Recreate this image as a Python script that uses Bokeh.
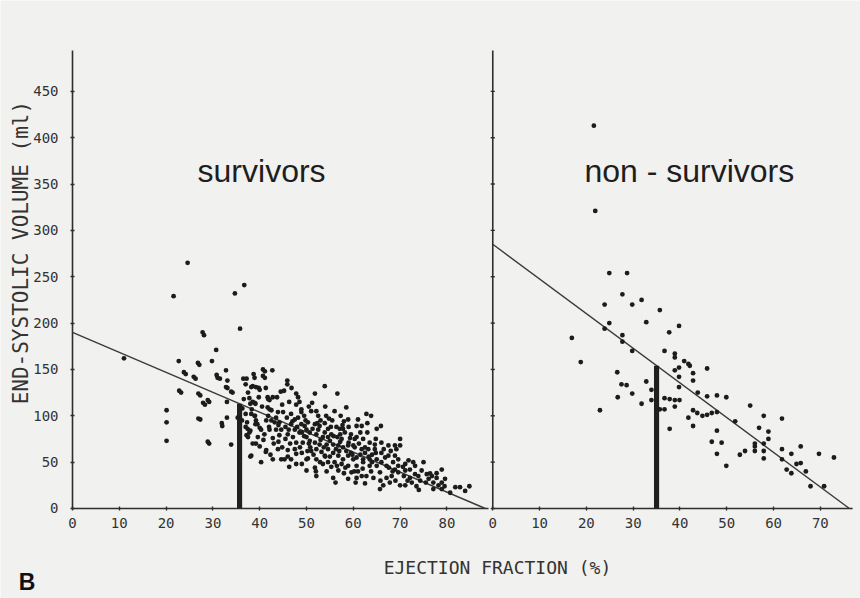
import numpy as np
from bokeh.plotting import figure
from bokeh.models import Range1d, FixedTicker, CustomJSTickFormatter, Label
from bokeh.embed import file_html
from bokeh.resources import INLINE

# ---------------- data ----------------
y_ticks = [0, 50, 100, 150, 200, 250, 300, 350, 400, 450]
surv_ticks = [0, 10, 20, 30, 40, 50, 60, 70, 80]
nonsurv_ticks = [0, 10, 20, 30, 40, 50, 60, 70]

surv_ef = [
    11.0, 20.1, 20.1, 20.1, 21.6, 22.7, 22.8, 23.2, 23.8, 24.2,
    24.6, 25.9, 26.3, 26.8, 26.9, 26.9, 27.1, 27.3, 27.3, 27.8,
    28.1, 27.9, 28.3, 28.9, 28.9, 29.2, 29.2, 29.8, 30.7, 30.8,
    31.0, 31.5, 31.9, 32.0, 32.8, 32.8, 33.0, 33.1, 33.1, 33.0,
    33.9, 33.9, 34.2, 34.7, 35.3, 35.8, 36.7,
    36.5, 37.2, 37.0, 38.9, 38.5, 38.7, 38.2, 39.2, 40.0, 37.5,
    38.5, 38.0, 37.8, 38.9, 39.1, 37.0, 38.3, 38.2, 38.9, 39.2,
    39.1, 37.3, 37.4, 37.8, 37.2, 37.0, 38.0, 40.0, 39.2, 38.5,
    39.6, 40.0, 38.2, 38.0, 39.5, 39.0, 36.2, 36.3, 39.8, 36.6,
    37.5,
    40.7, 40.7, 42.7, 41.1, 41.1, 41.3, 39.8, 41.7, 42.8, 43.7,
    44.5, 41.8, 42.1, 41.7, 42.5, 43.9, 41.4, 42.5, 43.2, 44.2,
    40.3, 42.1, 43.5, 44.6, 41.0, 42.8, 44.2, 41.4, 43.9, 42.8,
    44.6, 40.3, 45.3, 45.0, 45.2, 45.9, 45.9, 42.1, 41.3, 41.8,
    40.5, 43.0, 44.0, 40.8, 42.0, 43.5, 44.8, 42.3,
    47.8, 47.8, 48.9, 46.7, 47.5, 48.2, 46.7, 48.9, 49.6, 47.5,
    48.5, 47.1, 47.8, 49.2, 50.0, 47.5, 46.0, 47.8, 46.7, 50.0,
    47.8, 50.0, 50.0, 48.9, 46.3, 46.0, 49.0, 45.8, 46.5, 48.5,
    49.5, 45.5, 49.0, 46.3, 48.0, 49.8,
    51.8, 53.9, 51.0, 52.1, 52.5, 50.3, 51.8, 52.8, 53.9, 54.6,
    50.7, 52.1, 53.5, 54.6, 50.7, 51.8, 52.8, 54.3, 52.1, 53.2,
    54.6, 50.3, 52.1, 53.9, 51.8, 52.1, 54.6, 53.9, 55.0, 51.0,
    53.0, 50.5, 54.0, 52.5, 51.5, 53.5, 50.8, 54.8, 52.0, 54.3,
    56.6, 58.5, 58.0, 58.9, 56.4, 57.1, 58.2, 55.3, 56.6, 57.5,
    59.3, 55.7, 56.8, 57.8, 58.9, 60.0, 55.7, 56.8, 57.8, 58.9,
    60.0, 56.0, 57.5, 58.9, 55.7, 58.9, 56.8, 59.6, 60.7, 57.8,
    55.5, 59.0, 56.0, 57.0, 59.5, 55.3, 58.0, 59.5, 56.2, 57.3,
    60.7, 61.8, 62.8, 63.8, 65.0, 60.7, 62.1, 63.5, 64.6, 60.3,
    61.8, 63.2, 64.6, 60.7, 62.1, 63.5, 65.0, 60.7, 62.1, 63.5,
    65.0, 61.8, 62.8, 64.3, 62.5, 65.7, 65.9, 61.0, 61.5, 63.0,
    64.0, 62.5, 61.0, 63.8, 64.8, 60.5,
    66.0, 67.5, 68.9, 70.0, 70.0, 66.0, 67.5, 68.9, 69.6, 66.0,
    67.1, 68.5, 69.6, 65.7, 67.1, 68.2, 69.6, 66.4, 70.0, 68.9,
    66.5, 68.0, 69.0, 65.8, 67.8,
    71.1, 72.1, 73.2, 71.1, 73.9, 72.1, 74.3, 71.1, 75.0, 73.2,
    74.6, 70.8, 72.5, 73.5, 71.8, 74.0, 75.7, 76.8, 77.8, 78.9,
    76.1, 77.1, 78.2, 78.9, 77.1, 79.6, 78.9, 76.4, 77.8, 80.7,
    81.8, 82.8, 83.9, 84.8, 75.5, 79.5,
    44.0, 45.5, 46.2, 47.0, 48.6, 49.5, 50.5, 51.3, 52.3, 53.0,
    53.7, 54.0, 55.2, 55.8, 56.3, 57.2, 57.7, 58.5, 59.0, 59.8,
    60.3, 61.2, 61.5, 62.5, 63.3, 64.0, 63.0, 64.8, 66.8, 67.6,
    68.4, 69.2, 70.6, 71.6, 72.8, 44.8, 46.0, 49.0, 50.2, 52.9,
    55.0, 56.5, 58.3, 60.2, 62.0, 57.2, 54.2, 51.2, 48.2, 46.8,
]
surv_esv = [
    162, 106, 93, 73, 229, 159, 127, 125, 147, 145,
    265, 142, 140, 157, 124, 97, 155, 122, 96, 190,
    187, 114, 112, 117, 72, 115, 70, 159, 171, 144,
    141, 140, 92, 89, 149, 131, 115, 138, 130, 98,
    126, 69, 125, 232, 98, 194, 241,
    140, 140, 134, 141, 132, 145, 131, 131, 128, 125,
    115, 113, 119, 114, 113, 102, 107, 102, 100, 95,
    91, 93, 86, 82, 79, 88, 84, 87, 70, 70,
    77, 67, 57, 56, 91, 100, 95, 108, 120, 118,
    77,
    150, 143, 149, 148, 141, 130, 130, 120, 120, 120,
    126, 118, 117, 109, 106, 104, 95, 95, 93, 93,
    85, 85, 85, 85, 80, 76, 79, 63, 64, 53,
    53, 50, 53, 104, 127, 138, 134, 107, 61, 100,
    110, 70, 72, 74, 88, 98, 112, 58,
    124, 112, 107, 102, 96, 98, 91, 91, 89, 85,
    82, 77, 71, 71, 77, 64, 63, 59, 53, 53,
    48, 41, 85, 104, 115, 80, 60, 98, 70, 115,
    100, 88, 48, 45, 88, 95,
    124, 132, 105, 105, 100, 93, 91, 89, 92, 86,
    82, 80, 77, 77, 73, 71, 69, 69, 64, 61,
    64, 54, 53, 57, 44, 35, 50, 82, 73, 62,
    95, 110, 110, 85, 58, 48, 66, 97, 40, 40,
    124, 109, 94, 96, 88, 86, 82, 80, 77, 75,
    76, 69, 68, 66, 68, 68, 60, 57, 53, 57,
    53, 50, 48, 46, 33, 32, 41, 39, 33, 86,
    95, 88, 105, 62, 60, 45, 38, 80, 28, 100,
    89, 89, 102, 100, 86, 77, 75, 71, 69, 66,
    64, 64, 64, 55, 53, 53, 53, 46, 50, 46,
    46, 35, 35, 33, 27, 21, 89, 96, 82, 82,
    58, 60, 40, 40, 75, 28,
    71, 68, 68, 68, 75, 60, 57, 57, 53, 50,
    46, 50, 46, 39, 33, 35, 39, 25, 25, 42,
    64, 62, 30, 30, 28,
    48, 42, 37, 41, 35, 33, 30, 25, 50, 46,
    41, 35, 28, 24, 52, 20, 37, 35, 33, 42,
    32, 28, 25, 21, 21, 32, 28, 38, 38, 17,
    23, 23, 19, 24, 28, 24,
    90, 75, 85, 94, 66, 78, 70, 86, 92, 74,
    66, 56, 88, 78, 64, 72, 90, 62, 71, 58,
    75, 70, 58, 66, 56, 50, 92, 60, 55, 44,
    40, 64, 45, 30, 50, 66, 56, 82, 62, 50,
    56, 46, 44, 40, 43, 80, 100, 114, 120, 130,
]

nonsurv_ef = [
    16.9, 18.8, 22.9, 24.9, 28.7, 27.7, 23.9, 29.8, 31.8, 35.7,
    32.8, 24.9, 23.9, 39.8, 37.7, 27.7, 27.7, 29.8, 36.7, 38.9,
    38.9, 26.6, 27.5, 28.6, 26.7, 29.8, 31.8, 32.8, 33.9, 33.9,
    35.7, 36.7, 36.7, 37.8, 38.9, 39.9, 38.9, 37.8, 39.8, 39.8,
    38.9, 39.8, 40.9, 41.8, 42.1, 42.8, 42.8, 43.8, 42.8, 43.7,
    44.8, 45.8, 46.8, 47.9, 41.8, 42.8, 45.8, 45.8, 47.9, 49.9,
    47.9, 46.8, 48.9, 47.9, 49.9, 51.8, 52.8, 53.9, 55.0, 56.0,
    56.0, 56.0, 56.9, 57.9, 57.9, 57.9, 57.9, 58.9, 58.9, 61.8,
    61.8, 61.8, 62.8, 63.8, 63.8, 64.9, 65.8, 65.8, 66.9, 67.9,
    69.7, 70.8, 72.9, 21.6, 21.9,
]
nonsurv_esv = [
    184, 158, 106, 254, 254, 231, 220, 220, 225, 214,
    201, 200, 194, 197, 190, 187, 180, 170, 170, 167,
    163, 147, 134, 133, 120, 124, 113, 137, 128, 117,
    107, 107, 119, 118, 117, 117, 110, 86, 131, 142,
    149, 152, 159, 156, 154, 146, 138, 125, 106, 103,
    100, 101, 103, 104, 98, 89, 151, 121, 122, 120,
    84, 72, 71, 59, 46, 94, 58, 62, 111, 70,
    67, 62, 87, 100, 70, 62, 54, 83, 75, 97,
    64, 53, 42, 59, 38, 48, 49, 67, 40, 24,
    59, 24, 55, 413, 321,
]

# regression lines (intercept, slope) and EF cut-off
surv_intercept, surv_slope = 190.0, -2.154
nonsurv_intercept, nonsurv_slope = 285.0, -3.740
surv_cutoff = 35.7
nonsurv_cutoff = 35.0

# ---------------- layout constants ----------------
OFFSET = 89.8            # x position where the right panel starts
SURV_AXIS_END = 88.9     # length of the survivors x axis
NONSURV_AXIS_END = 76.9  # length of the non-survivors x axis
Y_AXIS_TOP = 494
X_START, X_END = -15.385, 168.376
Y_START, Y_END = -97.09, 548.0
BG = "#f1f1ef"
INK = "#1c1c1c"
AXC = "#2e2e2e"
MONO = "DejaVu Sans Mono"

p = figure(width=860, height=598, output_backend="svg", toolbar_location=None,
           x_range=Range1d(X_START, X_END), y_range=Range1d(Y_START, Y_END),
           min_border_left=0, min_border_right=0, min_border_top=0,
           min_border_bottom=0)
p.background_fill_color = BG
p.border_fill_color = BG
p.outline_line_color = None
p.grid.visible = False

# axes (drawn at data zero, lines drawn separately)
p.xaxis.ticker = FixedTicker(ticks=surv_ticks + [OFFSET + t for t in nonsurv_ticks])
p.xaxis.formatter = CustomJSTickFormatter(args=dict(off=OFFSET), code="""
    return tick < off - 0.5 ? tick.toFixed(0) : (tick - off).toFixed(0);
""")
p.yaxis.ticker = FixedTicker(ticks=y_ticks)
for ax in (p.xaxis, p.yaxis):
    ax.fixed_location = 0
    ax.axis_line_color = None
    ax.major_tick_line_color = AXC
    ax.major_tick_line_width = 1.4
    ax.major_tick_in = 2
    ax.major_tick_out = 2
    ax.minor_tick_line_color = None
    ax.major_label_text_font = MONO
    ax.major_label_text_font_size = "14px"
    ax.major_label_text_color = "#333333"
p.xaxis.major_label_standoff = 8
p.yaxis.major_label_standoff = 12

# axis lines
p.segment(x0=[0, OFFSET, 0, OFFSET], y0=[0, 0, 0, 0],
          x1=[0, OFFSET, SURV_AXIS_END, OFFSET + NONSURV_AXIS_END],
          y1=[Y_AXIS_TOP, Y_AXIS_TOP, 0, 0], line_color=AXC, line_width=1.6)
p.segment(x0=[OFFSET - 0.45] * len(y_ticks), y0=y_ticks,
          x1=[OFFSET + 0.45] * len(y_ticks), y1=y_ticks, line_color=AXC, line_width=1.4)

# regression lines
s_zero = -surv_intercept / surv_slope
n_zero = -nonsurv_intercept / nonsurv_slope
p.line([0, s_zero], [surv_intercept, 0], line_color="#3a3a3a", line_width=1.4)
p.line([OFFSET, OFFSET + n_zero], [nonsurv_intercept, 0], line_color="#3a3a3a", line_width=1.4)

# cut-off bars
s_top = surv_intercept + surv_slope * surv_cutoff
n_top = nonsurv_intercept + nonsurv_slope * nonsurv_cutoff
p.vbar(x=[surv_cutoff, OFFSET + nonsurv_cutoff], top=[s_top, n_top], bottom=0,
       width=1.1, fill_color="#202020", line_color=None)

# scatter points
p.scatter(surv_ef, surv_esv, size=4.8, fill_color=INK, line_color=None)
p.scatter([OFFSET + e for e in nonsurv_ef], nonsurv_esv, size=4.8, fill_color=INK, line_color=None)

# texts
p.add_layout(Label(x=40.4, y=364.6, text="survivors", text_align="center",
                   text_baseline="alphabetic", text_font="Liberation Sans",
                   text_font_size="32px", text_color="#1e1e1e"))
p.add_layout(Label(x=OFFSET + 42.0, y=364.6, text="non - survivors", text_align="center",
                   text_baseline="alphabetic", text_font="Liberation Sans",
                   text_font_size="32px", text_color="#1e1e1e"))
p.add_layout(Label(x=-11.1, y=276, text="END-SYSTOLIC VOLUME (ml)", angle=np.pi / 2,
                   text_align="center", text_baseline="middle", text_font=MONO,
                   text_font_size="21px", text_color="#333333"))
p.add_layout(Label(x=90.8, y=-63.6, text="EJECTION FRACTION (%)", text_align="center",
                   text_baseline="middle", text_font=MONO, text_font_size="18px",
                   text_color="#333333"))
p.add_layout(Label(x=-11.5, y=-79.8, text="B", text_align="left",
                   text_baseline="alphabetic", text_font="Liberation Sans",
                   text_font_style="bold", text_font_size="23px", text_color="#111111"))

open("out.html", "w").write(file_html(p, INLINE))
